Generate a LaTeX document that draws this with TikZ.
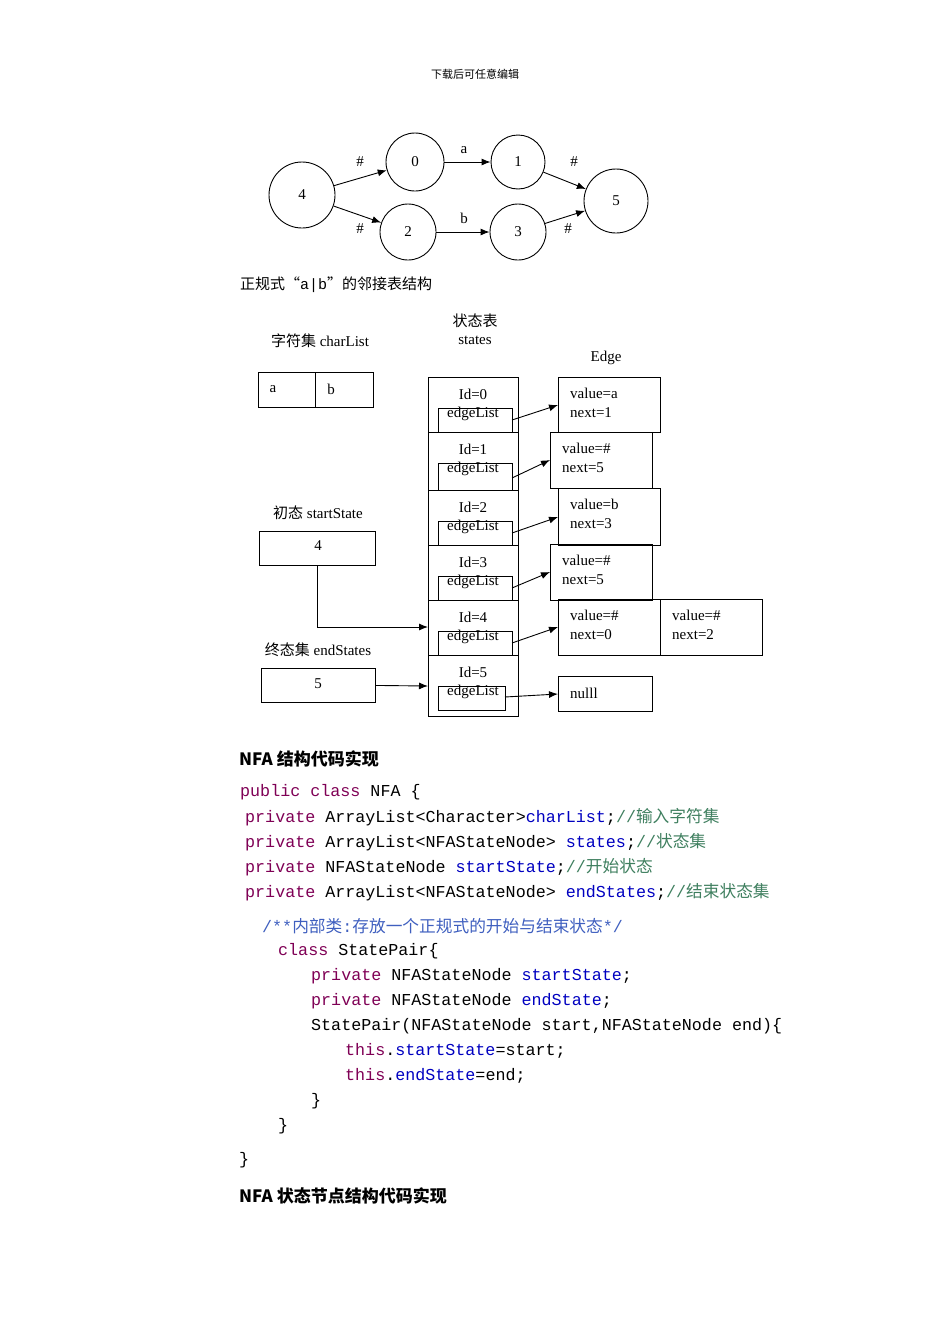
\documentclass[tikz,border=0pt]{standalone}
\usepackage{fontspec}
\setmainfont{Liberation Serif}
\setmonofont{Liberation Mono}
\newfontfamily\cjk{Noto Sans CJK SC}
\usetikzlibrary{arrows.meta}
\definecolor{kw}{HTML}{7F0055}
\definecolor{fld}{HTML}{0000C0}
\definecolor{cmt}{HTML}{3F7F5F}
\definecolor{jd}{HTML}{3F5FBF}
\begin{document}
\begin{tikzpicture}[x=1pt,y=-1pt,
  st/.style={circle,draw,line width=0.9pt,inner sep=0pt,font=\fontsize{15}{15}\selectfont},
  lb/.style={font=\fontsize{15}{15}\selectfont,inner sep=0pt},
  ar/.style={-{Latex[length=9pt,width=7pt]},line width=0.9pt},
  bx/.style={draw,line width=0.9pt,inner sep=0pt,anchor=north west},
  code/.style={anchor=west,inner sep=0pt,font=\fontsize{16.7}{16.7}\ttfamily},
  hd/.style={anchor=west,inner sep=0pt,font=\fontsize{17}{17}\cjk\bfseries}]
\useasboundingbox (0,0) rectangle (950,1344);
\node[inner sep=0pt,font=\fontsize{11}{11}\cjk] (hdr) at (475,74) {下载后可任意编辑};
% graph
\node[st,minimum size=66pt] (s4) at (302,195) {4};
\node[st,minimum size=58pt] (s0) at (415,162) {0};
\node[st,minimum size=54pt] (s1) at (518,162) {1};
\node[st,minimum size=56pt] (s2) at (408,232) {2};
\node[st,minimum size=56pt] (s3) at (518,232) {3};
\node[st,minimum size=64pt] (s5) at (616,201) {5};
\draw[ar] (s4) -- (s0); \draw[ar] (s4) -- (s2);
\draw[ar] (s0) -- (s1); \draw[ar] (s2) -- (s3);
\draw[ar] (s1) -- (s5); \draw[ar] (s3) -- (s5);
\node[lb] (e1) at (360,162) {\#};
\node[lb] (e2) at (464,150) {a};
\node[lb] (e3) at (574,162) {\#};
\node[lb] (e4) at (360,229) {\#};
\node[lb] (e5) at (464,218) {b};
\node[lb] (e6) at (568,229) {\#};
\node[anchor=west,inner sep=0pt,font=\fontsize{15}{15}\cjk] (cap) at (240,285) {正规式“\texttt{a|b}”的邻接表结构};
% table labels
\node[lb] (lc) at (320,341) {{\cjk 字符集} charList};
\node[lb] (ls1) at (475,321) {\cjk 状态表};
\node[lb] (ls2) at (475,340) {states};
\node[lb] (le) at (606,358) {Edge};
% charList
\node[bx,minimum width=57pt,minimum height=35pt] (ca) at (258,372) {};
\node[bx,minimum width=58pt,minimum height=35pt] (cb) at (315,372) {};
\node[lb] at (273,389) {a};
\node[lb] at (331,389) {b};
% states
\foreach \i/\t/\b in {0/377/432,1/432/490,2/490/545,3/545/600,4/600/655,5/655/716}{
  \pgfmathsetmacro\h{\b-\t}
  \node[bx,minimum width=90pt,minimum height=\h pt] (r\i) at (428,\t) {};
  \node[lb] (id\i) at (473,\t+17) {Id=\i};
}
\foreach \i/\t/\b in {0/377/432,1/432/490,2/490/545,3/545/600,4/600/655}{
  \pgfmathsetmacro\h{\b-\t-31}
  \node[bx,minimum width=74pt,minimum height=\h pt] (el\i) at (438,\t+31) {};
  \node[lb] at (473,\t+37) {edgeList};
}
\node[bx,minimum width=67pt,minimum height=24pt] (el5) at (438,686) {};
\node[lb] at (473,692) {edgeList};
% edges
\node[bx,minimum width=102pt,minimum height=55pt] (g0) at (558,377) {};
\node[bx,minimum width=102pt,minimum height=56pt] (g1) at (550,432) {};
\node[bx,minimum width=102pt,minimum height=57pt] (g2) at (558,488) {};
\node[bx,minimum width=102pt,minimum height=56pt] (g3) at (550,544) {};
\node[bx,minimum width=102pt,minimum height=56pt] (g4) at (558,599) {};
\node[bx,minimum width=102pt,minimum height=56pt] (g4b) at (660,599) {};
\node[bx,minimum width=94pt,minimum height=35pt] (gn) at (558,676) {};
\foreach \x/\y/\a/\b in {570/377/a/1,562/432/\#/5,570/488/b/3,562/544/\#/5,570/599/\#/0,672/599/\#/2}{
  \node[lb,anchor=west] at (\x,\y+16) {value=\a};
  \node[lb,anchor=west] at (\x,\y+36) {next=\b};
}
\node[lb,anchor=west] at (570,693) {nulll};
\coordinate (p0) at (512,420); \coordinate (p1) at (512,478);
\coordinate (p2) at (512,533); \coordinate (p3) at (512,588);
\coordinate (p4) at (512,643); \coordinate (p5) at (505,697);
\draw[ar] (p0) -- (558,405);
\draw[ar] (p1) -- (550,460);
\draw[ar] (p2) -- (558,517);
\draw[ar] (p3) -- (550,572);
\draw[ar] (p4) -- (558,627);
\draw[ar] (p5) -- (558,694);
% start / end
\node[lb] (lss) at (318,513) {{\cjk 初态} startState};
\node[bx,minimum width=116pt,minimum height=34pt] (ss) at (259,531) {};
\node[lb] at (318,546) {4};
\draw[ar] (ss.south) |- (428,627);
\node[lb] (les) at (318,650) {{\cjk 终态集} endStates};
\node[bx,minimum width=114pt,minimum height=34pt] (es) at (261,668) {};
\node[lb] at (318,684) {5};
\draw[ar] (es.east) -- (428,686);
% code
\node[hd] (h1) at (239,759) {NFA 结构代码实现};
\node[code] at (240,792) {\textcolor{kw}{public class} NFA \{};
\node[code] at (245,817) {\textcolor{kw}{private} ArrayList<Character>\textcolor{fld}{charList};\textcolor{cmt}{//{\cjk 输入字符集}}};
\node[code] at (245,842) {\textcolor{kw}{private} ArrayList<NFAStateNode> \textcolor{fld}{states};\textcolor{cmt}{//{\cjk 状态集}}};
\node[code] at (245,867) {\textcolor{kw}{private} NFAStateNode \textcolor{fld}{startState};\textcolor{cmt}{//{\cjk 开始状态}}};
\node[code] at (245,892) {\textcolor{kw}{private} ArrayList<NFAStateNode> \textcolor{fld}{endStates};\textcolor{cmt}{//{\cjk 结束状态集}}};
\node[code] at (262,926) {\textcolor{jd}{/**{\cjk 内部类}:{\cjk 存放一个正规式的开始与结束状态}*/}};
\node[code] at (278,951) {\textcolor{kw}{class} StatePair\{};
\node[code] at (311,976) {\textcolor{kw}{private} NFAStateNode \textcolor{fld}{startState};};
\node[code] at (311,1001) {\textcolor{kw}{private} NFAStateNode \textcolor{fld}{endState};};
\node[code] at (311,1026) {StatePair(NFAStateNode start,NFAStateNode end)\{};
\node[code] at (345,1051) {\textcolor{kw}{this}.\textcolor{fld}{startState}=start;};
\node[code] at (345,1076) {\textcolor{kw}{this}.\textcolor{fld}{endState}=end;};
\node[code] at (311,1101) {\}};
\node[code] at (278,1126) {\}};
\node[code] at (239,1160) {\}};
\node[hd] (h2) at (239,1196) {NFA 状态节点结构代码实现};
\end{tikzpicture}
\end{document}
